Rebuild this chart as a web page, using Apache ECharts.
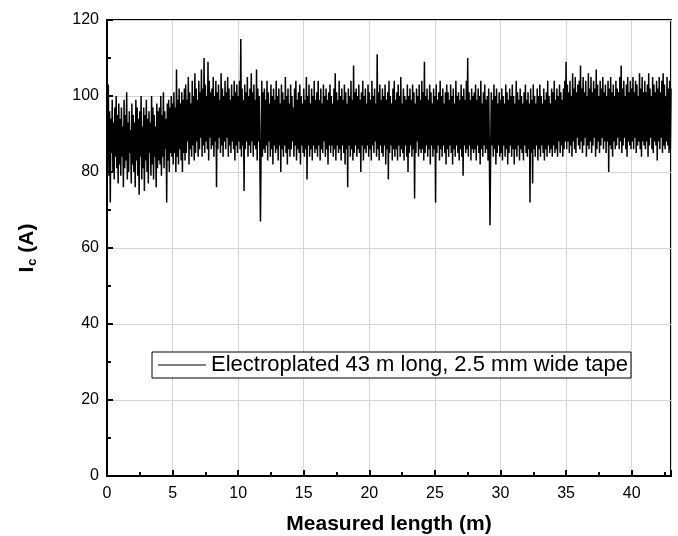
<!DOCTYPE html>
<html>
<head>
<meta charset="utf-8">
<script src="https://cdn.jsdelivr.net/npm/echarts@6/dist/echarts.min.js"></script>
<style>
html,body{margin:0;padding:0;background:#fff;}
#chart{width:678px;height:536px;}
</style>
</head>
<body>
<div id="chart"></div>
<script>
// Measurement step along the tape (m)
var stepM = 0.05;
// Ic values (A), 0.00 - 9.95 m
var ic_00_10 = [
 98, 83, 103, 79, 96, 72, 94, 85, 99, 80, 93, 78, 97, 84, 100, 81, 95, 77, 98, 82,
 94, 79, 97, 84, 92, 76, 99, 81, 95, 83, 101, 78, 93, 80, 96, 85, 91, 77, 98, 82,
 95, 80, 93, 76, 99, 83, 97, 79, 94, 74, 96, 84, 100, 78, 92, 81, 97, 75, 95, 83,
 99, 80, 94, 77, 96, 85, 93, 79, 100, 82, 97, 78, 95, 84, 92, 76, 98, 81, 96, 83,
 97, 82, 100, 79, 95, 84, 101, 81, 96, 86, 94, 72, 98, 83, 99, 80, 97, 85, 100, 84,
 98, 82, 101, 85, 97, 80, 107, 84, 99, 82, 102, 86, 98, 83, 101, 80, 99, 85, 102, 83,
 103, 85, 99, 88, 105, 82, 101, 86, 98, 84, 104, 87, 100, 83, 106, 85, 102, 88, 99, 84,
 104, 86, 101, 89, 107, 84, 102, 87, 110, 85, 103, 88, 100, 86, 109, 83, 104, 89, 101, 86,
 102, 87, 105, 84, 100, 88, 104, 76, 101, 86, 103, 89, 99, 85, 106, 87, 102, 84, 100, 88,
 104, 86, 101, 89, 105, 84, 102, 87, 99, 85, 103, 88, 100, 86, 104, 83, 101, 87, 103, 85
];
// 10.00 - 19.95 m
var ic_10_20 = [
 100, 88, 104, 86, 115, 84, 102, 87, 99, 75, 103, 86, 101, 88, 105, 84, 100, 87, 102, 85,
 106, 88, 101, 84, 103, 87, 99, 86, 107, 83, 102, 88, 100, 85, 67, 87, 104, 84, 101, 86,
 102, 85, 99, 87, 104, 83, 101, 88, 98, 84, 103, 86, 100, 82, 102, 87, 99, 85, 104, 86,
 100, 83, 102, 87, 98, 80, 103, 86, 101, 84, 99, 87, 105, 85, 100, 82, 102, 86, 98, 84,
 103, 86, 100, 88, 97, 84, 102, 87, 104, 83, 99, 86, 101, 85, 103, 82, 100, 87, 98, 85,
 102, 84, 99, 86, 105, 78, 100, 87, 103, 84, 98, 86, 102, 83, 100, 87, 104, 85, 99, 86,
 101, 84, 104, 87, 99, 83, 102, 86, 98, 85, 103, 88, 100, 84, 102, 86, 99, 82, 101, 87,
 103, 85, 100, 87, 98, 84, 102, 86, 106, 83, 101, 87, 99, 85, 104, 86, 100, 83, 102, 87,
 99, 85, 103, 82, 101, 86, 98, 76, 102, 87, 100, 84, 104, 86, 99, 83, 108, 85, 101, 87,
 102, 84, 100, 86, 103, 85, 99, 80, 101, 87, 104, 83, 100, 86, 102, 85, 98, 87, 103, 84
];
// 20.00 - 29.95 m
var ic_20_30 = [
 101, 86, 99, 83, 104, 87, 100, 85, 102, 88, 98, 84, 111, 86, 101, 83, 103, 87, 99, 85,
 102, 84, 100, 87, 103, 82, 99, 86, 101, 78, 104, 85, 100, 87, 98, 83, 102, 86, 104, 84,
 99, 86, 101, 83, 103, 87, 100, 84, 105, 86, 98, 85, 102, 83, 100, 87, 99, 84, 103, 80,
 100, 85, 102, 87, 99, 84, 103, 86, 101, 73, 98, 85, 102, 88, 100, 84, 103, 86, 99, 85,
 104, 86, 101, 83, 109, 85, 100, 87, 102, 84, 99, 86, 103, 82, 101, 87, 98, 84, 102, 86,
 100, 72, 103, 85, 99, 87, 101, 83, 104, 86, 100, 84, 102, 87, 98, 85, 101, 82, 103, 86,
 101, 84, 99, 87, 103, 85, 100, 82, 102, 86, 98, 84, 104, 87, 100, 85, 101, 83, 99, 86,
 103, 84, 100, 79, 102, 87, 99, 85, 104, 86, 110, 84, 101, 87, 99, 83, 102, 86, 100, 85,
 101, 86, 103, 83, 99, 87, 102, 85, 100, 82, 104, 86, 98, 84, 101, 87, 103, 85, 99, 86,
 100, 83, 102, 86, 66, 85, 101, 87, 99, 84, 103, 86, 100, 82, 102, 85, 98, 87, 101, 84
];
// 30.00 - 43.00 m
var ic_30_43 = [
 99, 85, 102, 83, 100, 87, 98, 84, 103, 86, 101, 82, 99, 85, 102, 87, 100, 84, 103, 86,
 100, 82, 98, 86, 104, 84, 101, 87, 99, 83, 102, 86, 100, 85, 98, 83, 101, 87, 103, 85,
 99, 84, 101, 86, 98, 72, 102, 85, 99, 77, 103, 86, 100, 84, 98, 87, 102, 83, 100, 86,
 103, 84, 100, 87, 98, 85, 102, 83, 99, 86, 101, 84, 104, 87, 100, 85, 98, 86, 102, 84,
 101, 87, 104, 85, 99, 86, 102, 84, 100, 88, 103, 85, 101, 87, 99, 84, 102, 86, 104, 88,
 109, 86, 103, 88, 101, 85, 104, 87, 100, 84, 106, 88, 102, 86, 105, 85, 101, 89, 103, 87,
 104, 86, 108, 88, 102, 85, 105, 87, 101, 89, 104, 84, 100, 87, 106, 86, 102, 88, 105, 85,
 101, 87, 104, 89, 102, 84, 107, 86, 103, 88, 100, 85, 104, 87, 102, 89, 105, 86, 101, 88,
 103, 85, 100, 88, 104, 80, 102, 87, 105, 86, 101, 84, 103, 88, 100, 86, 104, 87, 102, 89,
 101, 86, 105, 88, 108, 85, 102, 87, 104, 89, 100, 86, 103, 84, 105, 88, 101, 87, 104, 86,
 102, 88, 105, 86, 101, 89, 104, 85, 103, 87, 100, 88, 106, 86, 102, 84, 105, 88, 101, 87,
 104, 86, 101, 88, 103, 84, 106, 87, 102, 89, 100, 86, 105, 85, 103, 88, 101, 87, 104, 83,
 102, 88, 105, 86, 101, 89, 104, 85, 106, 87, 103, 86, 100, 88, 105, 87, 102, 85, 104, 86,
 102
];
var xTicks = [0, 5, 10, 15, 20, 25, 30, 35, 40];
var yTicks = [0, 20, 40, 60, 80, 100, 120];
var seriesName = 'Electroplated 43 m long, 2.5 mm wide tape';
var xTitle = 'Measured length (m)';

var icAll = ic_00_10.concat(ic_10_20, ic_20_30, ic_30_43);
var points = icAll.map(function (v, i) { return [+(i * stepM).toFixed(2), v]; });

var FONT = '"Liberation Sans", Arial, sans-serif';
var chart = echarts.init(document.getElementById('chart'), null, {renderer: 'canvas'});
chart.setOption({
  animation: false,
  backgroundColor: '#fff',
  grid: {left: 107, right: 7, top: 20, bottom: 60, show: true, borderColor: '#000', borderWidth: 2,
    backgroundColor: 'transparent', containLabel: false, outerBoundsMode: 'none'},
  legend: {
    left: 152, top: 352,
    data: [seriesName],
    icon: 'rect',
    borderColor: '#000', borderWidth: 1,
    padding: [2, 3, 2, 6],
    itemWidth: 48, itemHeight: 1, itemGap: 6,
    itemStyle: {color: '#000'},
    textStyle: {fontFamily: FONT, fontSize: 22, color: '#000'},
    backgroundColor: '#fff'
  },
  xAxis: {
    type: 'value', min: 0, max: 43, interval: 5,
    name: xTitle, nameLocation: 'middle', nameGap: 38,
    nameTextStyle: {fontFamily: FONT, fontSize: 21, color: '#000', fontWeight: 'bold'},
    axisLine: {show: true, lineStyle: {color: '#000', width: 2}},
    axisTick: {show: true, inside: true, length: 6, lineStyle: {color: '#000', width: 2}},
    minorTick: {show: true, splitNumber: 2, length: 4, lineStyle: {color: '#000', width: 2}},
    axisLabel: {fontFamily: FONT, fontSize: 16, color: '#000', margin: 10,
      formatter: function (v) { return xTicks.indexOf(v) >= 0 ? String(v) : ''; }},
    splitLine: {show: true, lineStyle: {color: '#d4d4d4', width: 1}}
  },
  yAxis: {
    type: 'value', min: 0, max: 120, interval: 20,
    name: '{b|I}{s|c}{b| (A)}', nameLocation: 'middle', nameGap: 68, nameRotate: 90,
    nameTextStyle: {
      fontFamily: FONT, color: '#000',
      rich: {
        b: {fontFamily: FONT, fontSize: 21, fontWeight: 'bold', color: '#000'},
        s: {fontFamily: FONT, fontSize: 13, fontWeight: 'bold', color: '#000', verticalAlign: 'bottom', padding: [10, 0, 0, 1]}
      }
    },
    axisLine: {show: true, lineStyle: {color: '#000', width: 2}},
    axisTick: {show: true, inside: true, length: 6, lineStyle: {color: '#000', width: 2}},
    minorTick: {show: true, splitNumber: 2, length: 4, lineStyle: {color: '#000', width: 2}},
    axisLabel: {fontFamily: FONT, fontSize: 16, color: '#000', margin: 8,
      formatter: function (v) { return yTicks.indexOf(v) >= 0 ? String(v) : ''; }},
    splitLine: {show: true, lineStyle: {color: '#d4d4d4', width: 1}}
  },
  series: [{
    name: seriesName,
    type: 'line',
    data: points,
    symbol: 'none',
    showSymbol: false,
    silent: true,
    lineStyle: {color: '#000', width: 1.5},
    itemStyle: {color: '#000'}
  }]
});
</script>
</body>
</html>
